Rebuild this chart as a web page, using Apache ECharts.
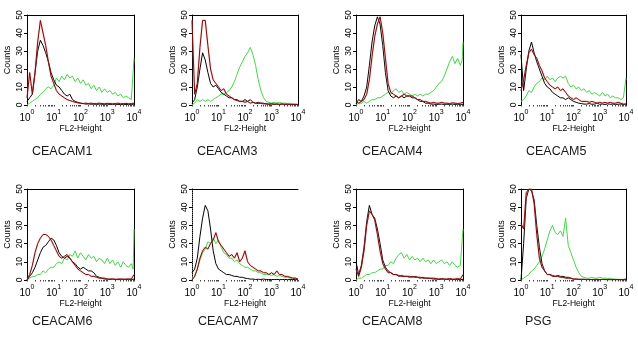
<!DOCTYPE html>
<html>
<head>
<meta charset="utf-8">
<script src="https://cdn.jsdelivr.net/npm/echarts@6/dist/echarts.min.js"></script>
<style>
  html, body { margin: 0; padding: 0; background: #fff; }
  #chart { width: 638px; height: 338px; }
</style>
</head>
<body>
<div id="chart"></div>
<script>
// FL2 channel positions, in decades (10^0 .. 10^4); the last channel is the overflow bin
const FL2_DECADE = [0, 0.1, 0.2, 0.3, 0.4, 0.5, 0.6, 0.7, 0.8, 0.9,
  1.0, 1.1, 1.2, 1.3, 1.4, 1.5, 1.6, 1.7, 1.8, 1.9,
  2.0, 2.1, 2.2, 2.3, 2.4, 2.5, 2.6, 2.7, 2.8, 2.9,
  3.0, 3.1, 3.2, 3.3, 3.4, 3.5, 3.6, 3.7, 3.8, 3.9, 3.97, 4.0];
const X_DECADES = [0, 1, 2, 3, 4];
const Y_MAX = 50;
const Y_STEP = 10;

// Counts per channel: black = isotype control, red = second control, green = antibody
const ceacam1Black = [2, 4, 6, 18, 30, 36, 33, 29, 24, 18, 14, 11, 10, 8, 6, 5, 6, 3, 2, 1.5, 1,
  0.8, 0.5, 0.6, 0.4, 0.5, 0.3, 0.5, 0.4, 0.3, 0.5, 0.2, 0.3, 0.4, 0.2, 0.3, 0.2, 0.3, 0.2, 0.2, 0.3, 0.5];
const ceacam1Red = [4, 18, 6, 18, 35, 47, 40, 33, 24, 16, 12, 8, 6, 5, 4, 3, 2.5, 2, 1.5, 1.2, 1,
  0.8, 1, 0.8, 1, 0.7, 0.8, 1, 0.8, 0.7, 0.9, 0.8, 0.7, 0.8, 1, 0.7, 0.8, 0.9, 0.7, 0.8, 0.8, 1];
const ceacam1Green = [0, 1, 2, 3, 4, 6, 7, 9, 10, 9, 11, 15, 13, 16, 14, 17, 15, 16, 13, 15,
  12, 14, 11, 12, 9, 11, 8, 10, 7, 9, 7, 8, 6, 7, 5, 6, 4, 5, 4, 3, 4, 26];

const ceacam3Black = [1, 3, 10, 20, 29, 25, 18, 12, 10, 11, 9, 7, 6, 5, 4, 4, 3, 3, 2, 2,
  3, 2, 3, 1.5, 1, 1.5, 1, 1, 0.5, 0.4, 0.5, 0.3, 0.4, 0.3, 0.5, 0.3, 0.2, 0.3, 0.2, 0.3, 0.2, 0.3];
const ceacam3Red = [47, 6, 12, 32, 47, 47, 33, 20, 14, 12, 10, 8, 9, 6, 5, 4, 3, 2.5, 2, 2,
  1.5, 2, 1, 1.5, 1, 0.8, 1, 0.6, 0.8, 0.5, 0.7, 0.5, 0.6, 0.4, 0.5, 0.4, 0.5, 0.3, 0.4, 0.3, 0.3, 0.3];
const ceacam3Green = [0, 1, 3, 2, 3, 2, 3, 2, 3, 4, 5, 6, 6, 7, 8, 10, 13, 17, 21, 24,
  27, 29, 32, 28, 22, 14, 8, 4, 2, 1.5, 1, 1.5, 1, 1.5, 1, 1, 0.8, 1, 0.5, 0.5, 0.4, 0.3];

const ceacam4Black = [1, 3, 2, 5, 10, 22, 35, 44, 49, 45, 33, 18, 8, 5, 4, 5, 4, 5, 4, 5,
  5, 4, 4, 3, 2, 2, 1, 1, 0.5, 0.5, 0.3, 0.4, 0.5, 0.3, 0.4, 0.3, 0.5, 0.3, 0.4, 0.3, 0.3, 0.4];
const ceacam4Red = [2, 1, 2, 3, 6, 14, 27, 38, 45, 49, 40, 26, 12, 7, 6, 5, 4, 5, 6, 5,
  5, 5, 4, 3, 3, 2, 2, 1.5, 1, 1.5, 1, 1, 1.5, 1, 1, 0.8, 1.2, 1, 0.8, 1, 1, 1.5];
const ceacam4Green = [0, 1, 1, 2, 1, 2, 3, 3, 4, 4, 5, 6, 7, 6, 8, 9, 7, 8, 6, 7,
  6, 5, 6, 5, 6, 5, 6, 6, 7, 8, 10, 12, 13, 16, 20, 24, 27, 23, 26, 22, 25, 35];

const ceacam5Black = [28, 8, 20, 30, 35, 29, 24, 20, 16, 12, 10, 9, 7, 6, 5, 4, 4, 3, 4, 3,
  2, 1.5, 1, 0.8, 0.5, 0.5, 0.8, 0.4, 0.5, 1, 0.4, 0.5, 0.3, 0.6, 0.4, 0.5, 0.3, 0.4, 0.5, 0.3, 0.3, 0.5];
const ceacam5Red = [8, 14, 22, 29, 31, 28, 26, 22, 19, 15, 13, 11, 10, 9, 10, 8, 9, 7, 5, 4,
  3, 4, 3, 2, 2, 2, 1.5, 2, 1.5, 1, 1.5, 1, 1.5, 1, 1.5, 1, 1, 1.5, 1, 0.5, 0.5, 0.5];
const ceacam5Green = [2, 3, 5, 8, 7, 10, 12, 13, 15, 14, 16, 14, 15, 13, 15, 16, 15, 16, 12, 10,
  11, 9, 10, 8, 9, 7, 8, 6, 7, 6, 5, 7, 5, 6, 4, 5, 4, 4, 3, 4, 3, 15];

const ceacam6Black = [0, 2, 4, 7, 11, 15, 18, 19, 21, 23, 22, 19, 15, 13, 12, 13, 12, 10, 9, 7,
  6, 7, 6, 5, 5, 4, 2, 1.5, 1, 0.5, 0.5, 0.3, 0.4, 0.3, 0.2, 0.3, 0.4, 0.2, 0.3, 0.2, 0.3, 0.5];
const ceacam6Red = [0, 3, 8, 15, 20, 23, 25, 25, 24, 22, 19, 16, 13, 12, 13, 14, 12, 10, 8, 6,
  5, 4, 3, 3, 2, 2, 1.5, 1, 1, 1, 0.5, 0.5, 0.6, 0.4, 0.5, 0.6, 0.4, 0.5, 0.6, 0.5, 1, 3];
const ceacam6Green = [0, 1, 2, 2, 3, 3, 5, 4, 6, 7, 7, 9, 10, 9, 12, 11, 14, 13, 16, 12,
  15, 13, 11, 14, 12, 13, 10, 12, 11, 9, 12, 9, 11, 8, 10, 7, 10, 8, 7, 9, 6, 28];

const ceacam7Black = [4, 6, 12, 24, 34, 41, 38, 28, 16, 9, 6, 5, 4, 3, 3, 2.5, 2, 2, 1.5, 1.5,
  1, 0.8, 0.5, 0.5, 0.3, 0.4, 0.3, 0.5, 0.3, 0.2, 0.3, 0.2, 0.3, 0.2, 0.2, 0.3, 0.2, 0.2, 0.3, 0.2, 0.2, 0.2];
const ceacam7Red = [0, 2, 6, 12, 16, 18, 17, 20, 22, 26, 21, 19, 17, 15, 13, 14, 12, 15, 10, 12,
  16, 10, 8, 7, 6, 5, 5, 4, 4, 3, 4, 3, 5, 3, 3, 2, 2, 1.5, 1, 1, 0.5, 0.5];
const ceacam7Green = [1, 2, 6, 11, 15, 17, 21, 20, 23, 20, 22, 18, 15, 14, 12, 12, 10, 11, 9, 8,
  7, 7, 6, 5, 5, 4, 4, 3, 3, 3, 2.5, 3, 2, 2.5, 2, 1.5, 1.5, 1, 1, 1, 0.5, 0.5];

const ceacam8Black = [10, 3, 8, 18, 32, 41, 36, 34, 28, 20, 11, 7, 5, 4, 3, 3, 2, 2.5, 2, 2,
  1.5, 2, 1.5, 1.5, 1, 1.5, 1, 1, 0.8, 0.5, 0.5, 0.3, 0.4, 0.5, 0.3, 0.4, 0.3, 0.2, 0.3, 0.2, 0.3, 0.4];
const ceacam8Red = [6, 2, 7, 16, 30, 38, 36, 33, 25, 16, 9, 6, 4, 4, 3, 3, 2.5, 2, 2, 2,
  2, 1.5, 2, 1.5, 1.5, 1, 1, 1, 1, 1, 0.8, 0.5, 0.8, 0.5, 0.5, 0.8, 0.5, 0.5, 0.8, 0.5, 1, 3];
const ceacam8Green = [0, 1, 1, 2, 3, 3, 4, 4, 5, 6, 6, 8, 8, 10, 9, 12, 14, 15, 12, 14,
  11, 13, 11, 12, 10, 12, 10, 11, 9, 11, 9, 10, 11, 9, 10, 8, 10, 8, 7, 8, 7, 28];

const psgBlack = [0, 20, 45, 50, 49, 44, 30, 18, 9, 5, 3, 3, 2.5, 2, 2.5, 2, 2, 1.5, 1.5, 1,
  0.5, 0.5, 0.3, 0.4, 0.3, 0.2, 0.3, 0.2, 0.3, 0.2, 0.2, 0.3, 0.2, 0.2, 0.1, 0.2, 0.2, 0.1, 0.2, 0.1, 0.2, 0.2];
const psgRed = [31, 28, 48, 50, 50, 42, 25, 12, 7, 5, 3, 3, 2, 2, 2, 1.5, 1.5, 1, 1, 1,
  0.5, 0.5, 0.4, 0.3, 0.4, 0.3, 0.3, 0.2, 0.3, 0.3, 0.2, 0.3, 0.2, 0.3, 0.2, 0.3, 0.2, 0.3, 0.2, 0.3, 0.3, 0.5];
const psgGreen = [0, 1, 2, 3, 5, 6, 8, 10, 13, 17, 22, 27, 30, 26, 25, 27, 24, 34, 19, 15,
  11, 7, 4, 2, 1.5, 1, 1, 1.5, 1, 1, 1.5, 1, 1, 0.8, 1, 0.5, 0.5, 0.3, 0.3, 0.2, 0.2, 0.2];

const PANEL_NAMES = ['CEACAM1', 'CEACAM3', 'CEACAM4', 'CEACAM5', 'CEACAM6', 'CEACAM7', 'CEACAM8', 'PSG'];
const PANEL_BLACK = [ceacam1Black, ceacam3Black, ceacam4Black, ceacam5Black, ceacam6Black, ceacam7Black, ceacam8Black, psgBlack];
const PANEL_RED = [ceacam1Red, ceacam3Red, ceacam4Red, ceacam5Red, ceacam6Red, ceacam7Red, ceacam8Red, psgRed];
const PANEL_GREEN = [ceacam1Green, ceacam3Green, ceacam4Green, ceacam5Green, ceacam6Green, ceacam7Green, ceacam8Green, psgGreen];

// Page layout of the 2 x 4 panel grid
const COL_LEFT = [27, 192, 356, 521];
const COL_WIDTH = [107, 106, 107, 105];
const ROW_TOP = [15, 189];
const ROW_HEIGHT = [90, 91];
const TITLE_LEFT = [32, 197, 362, 526, 32, 198, 362, 525];
const TITLE_TOP = [145, 315];
const RIGHT_FRAME = [true, true, true, true, true, false, true, true];
const LEFT_DOTTED = [false, false, false, false, false, true, false, false];

const FONT = '"Liberation Sans", Arial, sans-serif';
const COLORS = { black: '#000000', red: '#7a0c0c', green: '#45d645' };

// Minor tick marks at 2..9 of every decade, plus the decades themselves
const tickPositions = [];
for (let d = 0; d < 4; d++) {
  tickPositions.push(d);
  for (let m = 2; m <= 9; m++) tickPositions.push(d + Math.log10(m));
}
tickPositions.push(4);

const grids = [], xAxes = [], yAxes = [], series = [], titles = [];

PANEL_NAMES.forEach((name, i) => {
  const row = Math.floor(i / 4), col = i % 4;
  grids.push({
    left: COL_LEFT[col], top: ROW_TOP[row],
    width: COL_WIDTH[col], height: ROW_HEIGHT[row],
    containLabel: false
  });

  // bottom axis: FL2-Height, decades labelled as powers of ten
  xAxes.push({
    gridIndex: i, type: 'value', position: 'bottom',
    min: 0, max: 4, interval: 1,
    name: 'FL2-Height', nameLocation: 'middle', nameGap: 16,
    nameTextStyle: { fontFamily: FONT, fontSize: 8.5, color: '#000' },
    axisLine: { show: false, onZero: false },
    axisTick: { show: true, customValues: tickPositions, length: 1.5, lineStyle: { color: '#444', width: 1 } },
    axisLabel: {
      margin: 4,
      formatter: v => '{b|10}{s|' + X_DECADES[Math.round(v)] + '}',
      rich: {
        b: { fontFamily: FONT, fontSize: 10, color: '#000', lineHeight: 14, verticalAlign: 'bottom' },
        s: { fontFamily: FONT, fontSize: 7, color: '#000', lineHeight: 6, verticalAlign: 'top' }
      }
    },
    splitLine: { show: false }
  });
  // top frame line
  xAxes.push({
    gridIndex: i, type: 'value', position: 'top', min: 0, max: 4,
    axisLine: { show: true, onZero: false, lineStyle: { color: '#000', width: 1 } },
    axisTick: { show: false }, axisLabel: { show: false }, splitLine: { show: false }
  });

  // left axis: Counts
  yAxes.push({
    gridIndex: i, type: 'value', position: 'left',
    min: 0, max: Y_MAX, interval: Y_STEP,
    name: 'Counts', nameLocation: 'middle', nameGap: 15, nameRotate: 90,
    nameTextStyle: { fontFamily: FONT, fontSize: 9, color: '#000' },
    axisLine: { show: true, onZero: false, lineStyle: { color: '#000', width: 1, type: LEFT_DOTTED[i] ? 'dotted' : 'solid' } },
    axisTick: { show: true, length: 3, lineStyle: { color: '#000', width: 1 } },
    axisLabel: { rotate: 90, margin: 3, fontFamily: FONT, fontSize: 8.5, color: '#000' },
    splitLine: { show: false }
  });
  // right frame line
  yAxes.push({
    gridIndex: i, type: 'value', position: 'right', min: 0, max: Y_MAX,
    axisLine: { show: RIGHT_FRAME[i], onZero: false, lineStyle: { color: '#000', width: 1 } },
    axisTick: { show: false }, axisLabel: { show: false }, splitLine: { show: false }
  });

  const mk = (values, color, extra) => Object.assign({
    type: 'line', xAxisIndex: 2 * i, yAxisIndex: 2 * i,
    data: FL2_DECADE.map((x, k) => [x, values[k]]),
    showSymbol: false, symbol: 'none', silent: true, clip: true,
    lineStyle: Object.assign({ color: color, width: 1 }, extra || {})
  });
  series.push(mk(PANEL_GREEN[i], COLORS.green));
  series.push(mk(PANEL_BLACK[i], COLORS.black));
  series.push(mk(PANEL_RED[i], COLORS.red, { width: 1, shadowColor: 'rgba(225,120,120,0.8)', shadowBlur: 1.5 }));

  titles.push({
    text: name, left: TITLE_LEFT[i], top: TITLE_TOP[row], padding: 0,
    textStyle: { fontFamily: FONT, fontSize: 12.5, fontWeight: 'normal', color: '#1a1a1a' }
  });
});

const chart = echarts.init(document.getElementById('chart'), null, { renderer: 'canvas' });
chart.setOption({
  backgroundColor: '#ffffff',
  animation: false,
  title: titles,
  grid: grids,
  xAxis: xAxes,
  yAxis: yAxes,
  series: series
});
</script>
</body>
</html>
